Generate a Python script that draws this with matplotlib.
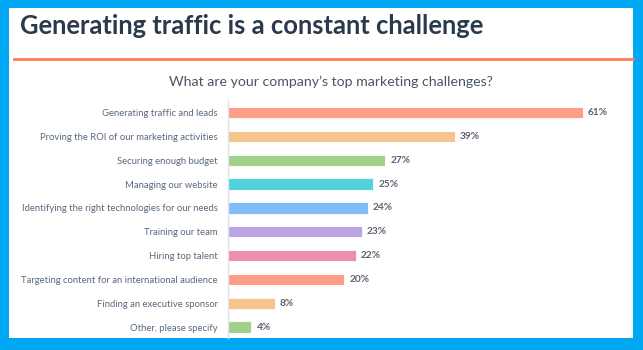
import matplotlib
matplotlib.use("Agg")
import matplotlib.pyplot as plt
from matplotlib.patches import Rectangle
from matplotlib.lines import Line2D

challenges = [
    "Generating traffic and leads",
    "Proving the ROI of our marketing activities",
    "Securing enough budget",
    "Managing our website",
    "Identifying the right technologies for our needs",
    "Training our team",
    "Hiring top talent",
    "Targeting content for an international audience",
    "Finding an executive sponsor",
    "Other, please specify",
]
shares = [61, 39, 27, 25, 24, 23, 22, 20, 8, 4]
bar_colors = ["#fd9e88", "#f5c48c", "#a0d28c", "#52d2da", "#80bdf8",
              "#bba5e5", "#ea8fae", "#fd9e88", "#f5c48c", "#a0d28c"]

title = "Generating traffic is a constant challenge"
subtitle = "What are your company\u2019s top marketing challenges?"

W, H = 643, 350
fig = plt.figure(figsize=(W / 100, H / 100), dpi=100)
fig.patch.set_facecolor("#00a8f4")

# white card
fig.add_artist(Rectangle((9 / W, 1 - 338 / H), (633 - 9) / W, (338 - 8) / H,
                         transform=fig.transFigure, facecolor="white",
                         edgecolor="none", zorder=0))

fig.text(20 / W, 1 - 26 / H, title, fontsize=18.4, fontweight="bold",
         family="Lato", color="#2a3a4c", va="center", ha="left")
fig.add_artist(Line2D([14 / W, 633 / W], [1 - 59 / H, 1 - 59 / H],
                      transform=fig.transFigure, color="#ff7a59", lw=2))
fig.text(331 / W, 1 - 82 / H, subtitle, fontsize=10.2, family="Lato",
         color="#4a5564", va="center", ha="center")

ax = fig.add_axes([228 / W, 1 - 338 / H, (635 - 228) / W, 238 / H])
ax.set_facecolor("none")
ypos = list(range(len(challenges)))
ax.barh(ypos, shares, height=0.47, color=bar_colors,
        edgecolor="white", linewidth=0.6)
for y, v in zip(ypos, shares):
    ax.text(v + 0.9, y, f"{v}%", va="center", ha="left", fontsize=7.3,
            family="Lato", fontweight="bold", color="#5a6271")
ax.set_yticks(ypos)
ax.set_yticklabels(challenges, fontsize=6.8, family="Lato", color="#58697e")
ax.tick_params(axis="y", length=0, pad=7.5)
ax.set_xlim(0, 70)
ax.set_ylim(9.46, -0.53)
ax.set_xticks([])
for s in ["top", "right", "bottom"]:
    ax.spines[s].set_visible(False)
ax.spines["left"].set_color("#dfe3eb")
ax.spines["left"].set_linewidth(1)

fig.savefig("out.png", dpi=100, facecolor=fig.get_facecolor())
